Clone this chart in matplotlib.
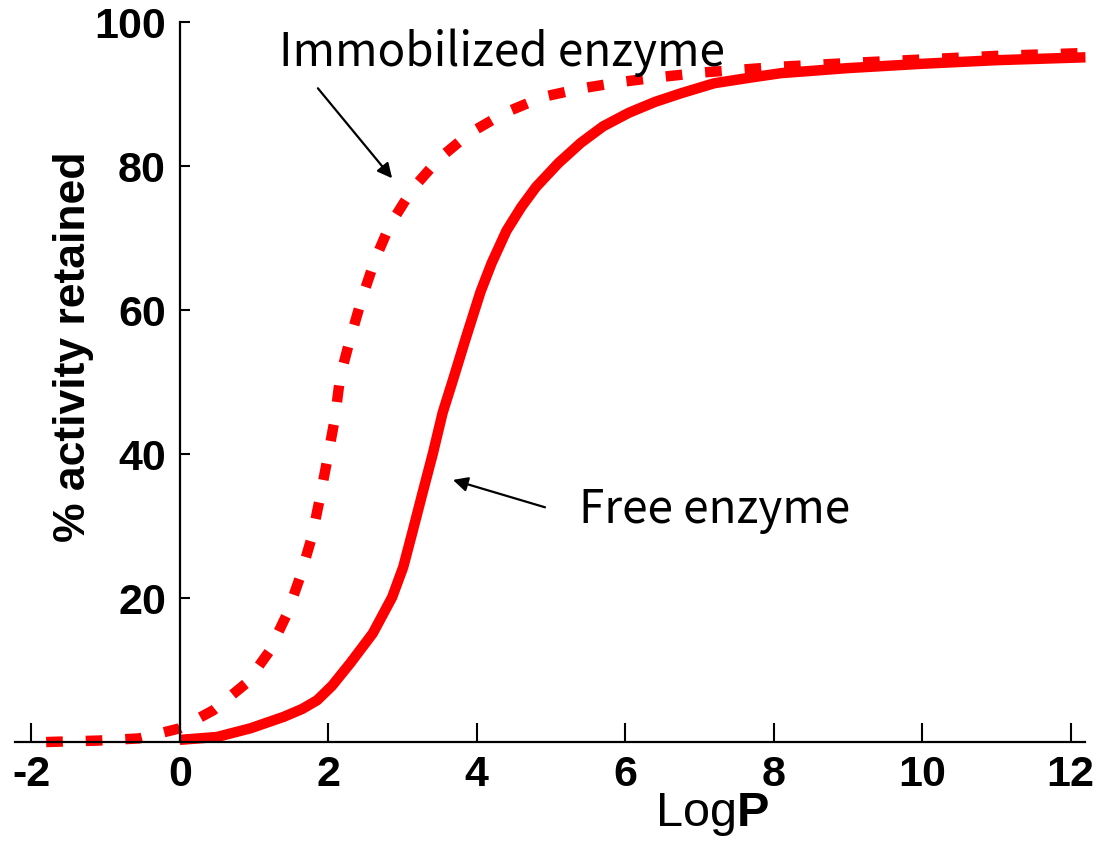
import matplotlib
matplotlib.use("Agg")
import matplotlib.pyplot as plt

# ----- data -----
free_x = [0, 0.5, 0.95, 1.4, 1.65, 1.85, 2.05, 2.3, 2.6, 2.86, 3.01, 3.14,
          3.27, 3.41, 3.54, 3.68, 3.85, 4.05, 4.2, 4.4, 4.6, 4.8, 5.1, 5.4,
          5.7, 6.05, 6.4, 6.75, 7.2, 7.7, 8.1, 9, 10, 11, 12.2]
free_y = [0.3, 0.7, 1.9, 3.5, 4.6, 5.8, 7.8, 11, 15.1, 20.1, 24.3, 29.4,
          34.6, 40.1, 45.7, 50.3, 56, 62.5, 66.5, 71, 74.3, 77.1, 80.4, 83.2,
          85.5, 87.4, 88.9, 90.1, 91.5, 92.3, 92.9, 93.6, 94.2, 94.7, 95.1]

immob_x = [-1.8, -1.1, -0.55, 0, 0.45, 0.9, 1.2, 1.45, 1.62, 1.78, 1.89,
           1.99, 2.09, 2.16, 2.29, 2.45, 2.63, 2.83, 3.14, 3.5, 3.91, 4.38,
           4.89, 5.42, 5.96, 6.51, 7.05, 8.1, 9, 10, 11, 12.2]
immob_y = [0, 0.2, 0.5, 1.9, 4.4, 8.2, 12.5, 17.9, 22.9, 28.5, 34,
           39.4, 45, 50.7, 55.8, 61.5, 67, 71.8, 76.9, 81.1, 84.6, 87.4,
           89.6, 90.8, 91.7, 92.4, 93, 93.8, 94.3, 94.8, 95.3, 95.7]

xticks = [-2, 0, 2, 4, 6, 8, 10, 12]
xtick_labels = ['-2', '0', '2', '4', '6', '8', '10', '12']
yticks = [20, 40, 60, 80, 100]

# ----- figure -----
plt.rcParams['font.family'] = ['Liberation Sans', 'DejaVu Sans']
plt.rcParams['mathtext.fontset'] = 'custom'
plt.rcParams['mathtext.rm'] = 'Liberation Sans'
plt.rcParams['mathtext.bf'] = 'Liberation Sans:bold'

fig = plt.figure(figsize=(11.11, 8.41), dpi=100)
ax = fig.add_axes([0.0135, 0.1177, 0.9635, 0.8561])

ax.plot(free_x, free_y, color='red', lw=7.5, solid_capstyle='butt',
        solid_joinstyle='round', clip_on=False)
ax.plot(immob_x, immob_y, color='red', lw=7.5, linestyle=(0, (1.6, 2.2)),
        dash_capstyle='butt', clip_on=False)

ax.set_xlim(-2.22, 12.2)
ax.set_ylim(0, 100)

for s in ['top', 'right']:
    ax.spines[s].set_visible(False)
ax.spines['left'].set_position(('data', 0))
ax.spines['left'].set_linewidth(1.6)
ax.spines['bottom'].set_linewidth(1.6)

ax.set_xticks(xticks)
ax.set_xticklabels(xtick_labels)
ax.set_yticks(yticks)
ax.tick_params(axis='x', direction='in', length=14, width=1.5, pad=9, labelsize=31)
ax.tick_params(axis='y', direction='in', length=7, width=1.5, pad=10, labelsize=31)
for lab in ax.get_xticklabels() + ax.get_yticklabels():
    lab.set_fontweight('bold')

ax.set_xlabel(r'Log$\mathbf{P}$', fontsize=35)
ax.xaxis.set_label_coords(0.651, -0.068)
ax.set_ylabel('% activity retained', fontsize=32, fontweight='bold', va='center')
ax.yaxis.set_label_coords(0.055, 0.549)

# ----- annotations -----
ann_font = ['Noto Sans CJK KR', 'DejaVu Sans']
ax.text(4.34, 95.8, 'Immobilized enzyme', ha='center', va='center',
        fontsize=33, family=ann_font)
ax.text(7.21, 32.2, 'Free enzyme', ha='center', va='center',
        fontsize=33, family=ann_font)
arrow = dict(arrowstyle='-|>', color='black', lw=1.6, mutation_scale=22,
             shrinkA=0, shrinkB=0)
ax.annotate('', xy=(2.86, 78.3), xytext=(1.86, 90.8), arrowprops=arrow)
ax.annotate('', xy=(3.68, 36.4), xytext=(4.92, 32.6), arrowprops=arrow)

fig.savefig('out.png', dpi=100, facecolor='white')
